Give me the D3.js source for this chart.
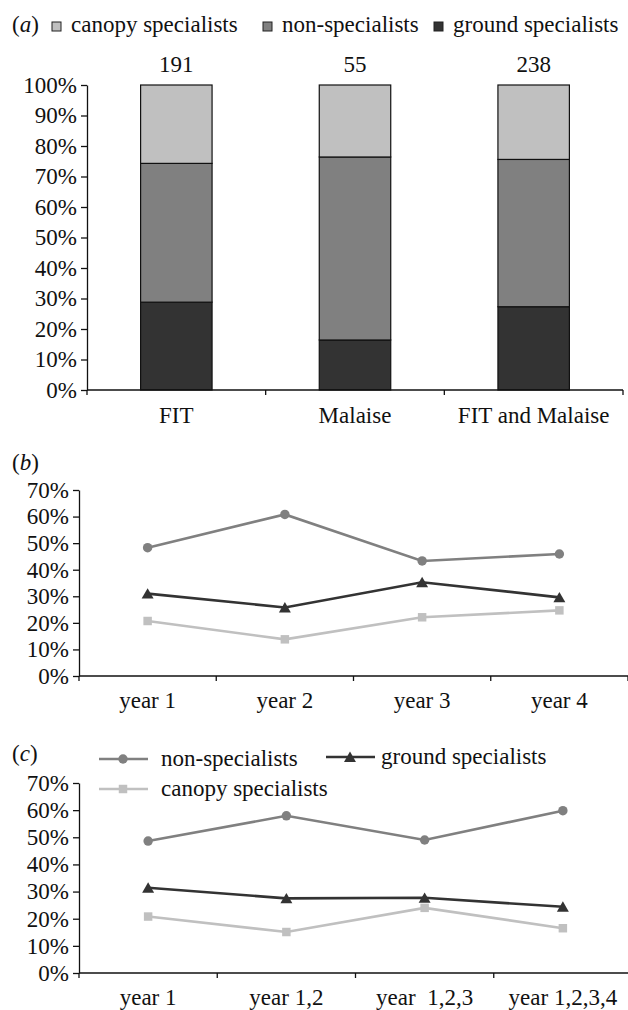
<!DOCTYPE html>
<html>
<head>
<meta charset="utf-8">
<script src="https://cdn.jsdelivr.net/npm/d3@7"></script>
<style>
  body { margin: 0; background: #fff; }
  svg text { font-family: "Liberation Serif", "Times New Roman", serif; font-size: 23px; fill: #111; white-space: pre; }
</style>
</head>
<body>
<svg id="fig" width="628" height="1010"></svg>
<script>
// panel (a) stacked bars, percentages
const barCats = ["FIT", "Malaise", "FIT and Malaise"];
const barTotals = [191, 55, 238];
const groundPct = [28.8, 16.4, 27.3];
const nonPct = [45.5, 60.0, 48.3];
const canopyPct = [25.7, 23.6, 24.4];

// panel (b) per year
const yearsB = ["year 1", "year 2", "year 3", "year 4"];
const bNon = [48.3, 60.8, 43.3, 45.9];
const bGround = [31.0, 25.8, 35.3, 29.6];
const bCanopy = [20.7, 13.8, 22.1, 24.7];

// panel (c) cumulative years
const yearsC = ["year 1", "year 1,2", "year  1,2,3", "year 1,2,3,4"];
const cNon = [48.6, 57.9, 49.0, 59.8];
const cGround = [31.4, 27.5, 27.7, 24.4];
const cCanopy = [20.8, 15.1, 24.0, 16.5];

const pctTicksA = d3.range(0, 101, 10);
const pctTicksL = d3.range(0, 71, 10);

const colCanopy = "#c0c0c0", colNon = "#808080", colGround = "#333333";

const svg = d3.select("#fig");

function panelLabel(x, y, letter) {
  const t = svg.append("text").attr("x", x).attr("y", y);
  t.append("tspan").text("(");
  t.append("tspan").attr("font-style", "italic").text(letter);
  t.append("tspan").text(")");
}

// y axis + x base line with boundary ticks
function drawAxes(g, x, y, ticks, x1) {
  g.append("g")
    .attr("transform", `translate(${x.range()[0]},0)`)
    .call(d3.axisLeft(y).tickValues(ticks).tickSize(6).tickSizeOuter(0).tickPadding(4).tickFormat(d => d + "%"))
    .call(a => a.selectAll("line,path").attr("stroke", "#111").attr("stroke-width", 1.3))
    .call(a => a.selectAll("text").attr("font-size", 23).attr("font-family", "Liberation Serif").attr("fill", "#111"));
  const y0 = y(0);
  g.append("line").attr("x1", x.range()[0]).attr("x2", x1).attr("y1", y0).attr("y2", y0)
    .attr("stroke", "#111").attr("stroke-width", 1.3);
  const edges = x.domain().map(d => x(d)).concat([x.range()[1]]);
  g.selectAll("line.edge").data(edges).join("line").attr("class", "edge")
    .attr("x1", d => d).attr("x2", d => d).attr("y1", y0).attr("y2", y0 + 5)
    .attr("stroke", "#111").attr("stroke-width", 1.3);
}

// ---------- (a)
panelLabel(12, 32, "a");
const legA = [["canopy specialists", colCanopy, 52], ["non-specialists", colNon, 263], ["ground specialists", colGround, 434]];
legA.forEach(([lab, c, lx]) => {
  svg.append("rect").attr("x", lx).attr("y", 22).attr("width", 9).attr("height", 9)
    .attr("fill", c).attr("stroke", "#222").attr("stroke-width", 1);
  svg.append("text").attr("x", lx + 19).attr("y", 32).text(lab);
});

const xa = d3.scaleBand().domain(barCats).range([87, 623]);
const ya = d3.scaleLinear().domain([0, 100]).range([390, 85]);
const ga = svg.append("g");

const stackRows = barCats.map((c, i) => ({ cat: c, ground: groundPct[i], non: nonPct[i], canopy: canopyPct[i] }));
const stack = d3.stack().keys(["ground", "non", "canopy"])(stackRows);
const fills = { ground: colGround, non: colNon, canopy: colCanopy };
const bw = xa.bandwidth() * 0.4;
stack.forEach(layer => {
  ga.selectAll(null).data(layer).join("rect")
    .attr("x", d => xa(d.data.cat) + (xa.bandwidth() - bw) / 2)
    .attr("width", bw)
    .attr("y", d => ya(d[1]))
    .attr("height", d => ya(d[0]) - ya(d[1]))
    .attr("fill", fills[layer.key])
    .attr("stroke", "#111").attr("stroke-width", 1.2);
});
drawAxes(ga, xa, ya, pctTicksA, 623);
ga.selectAll("text.tot").data(barCats).join("text").attr("class", "tot")
  .attr("x", d => xa(d) + xa.bandwidth() / 2).attr("y", 72).attr("text-anchor", "middle")
  .text((d, i) => barTotals[i]);
ga.selectAll("text.cat").data(barCats).join("text").attr("class", "cat")
  .attr("x", d => xa(d) + xa.bandwidth() / 2).attr("y", 423).attr("text-anchor", "middle")
  .text(d => d);

// ---------- line panels
function linePanel(cats, series, yTop, yBot, xEnd, labelY) {
  const x = d3.scaleBand().domain(cats).range([79, xEnd]);
  const y = d3.scaleLinear().domain([0, 70]).range([yBot, yTop]);
  const g = svg.append("g");
  drawAxes(g, x, y, pctTicksL, 628);
  const cx = d => x(d) + x.bandwidth() / 2;
  const line = d3.line().x(d => cx(d.c)).y(d => y(d.v));
  series.forEach(s => {
    const pts = cats.map((c, i) => ({ c: c, v: s.vals[i] }));
    g.append("path").datum(pts).attr("d", line).attr("fill", "none")
      .attr("stroke", s.color).attr("stroke-width", 2.6);
    g.selectAll(null).data(pts).join("path")
      .attr("transform", d => `translate(${cx(d.c)},${y(d.v) + s.dy})`)
      .attr("d", d3.symbol().type(s.sym).size(s.size))
      .attr("fill", s.color);
  });
  g.selectAll("text.cat").data(cats).join("text").attr("class", "cat")
    .attr("x", d => cx(d)).attr("y", labelY).attr("text-anchor", "middle").text(d => d);
}

const symNon = { sym: d3.symbolCircle, size: 70, dy: 0 };
const symGround = { sym: d3.symbolTriangle, size: 62, dy: 1.5 };
const symCanopy = { sym: d3.symbolSquare, size: 72, dy: 0 };

// ---------- (b)
panelLabel(12, 470, "b");
linePanel(yearsB, [
  Object.assign({ vals: bNon, color: colNon }, symNon),
  Object.assign({ vals: bGround, color: colGround }, symGround),
  Object.assign({ vals: bCanopy, color: colCanopy }, symCanopy)
], 490, 676, 628, 708);

// ---------- (c)
panelLabel(12, 761, "c");
linePanel(yearsC, [
  Object.assign({ vals: cNon, color: colNon }, symNon),
  Object.assign({ vals: cGround, color: colGround }, symGround),
  Object.assign({ vals: cCanopy, color: colCanopy }, symCanopy)
], 783, 973, 632, 1005);

const legC = [
  ["non-specialists", colNon, symNon, 99, 759],
  ["ground specialists", colGround, symGround, 326, 757],
  ["canopy specialists", colCanopy, symCanopy, 99, 789]
];
legC.forEach(([lab, c, s, lx, ly]) => {
  svg.append("line").attr("x1", lx).attr("x2", lx + 49).attr("y1", ly).attr("y2", ly)
    .attr("stroke", c).attr("stroke-width", 2.6);
  svg.append("path").attr("transform", `translate(${lx + 24},${ly + s.dy})`)
    .attr("d", d3.symbol().type(s.sym).size(s.size)).attr("fill", c);
  svg.append("text").attr("x", lx + (lab === "ground specialists" ? 55 : 62)).attr("y", ly + 7).text(lab);
});
</script>
</body>
</html>
